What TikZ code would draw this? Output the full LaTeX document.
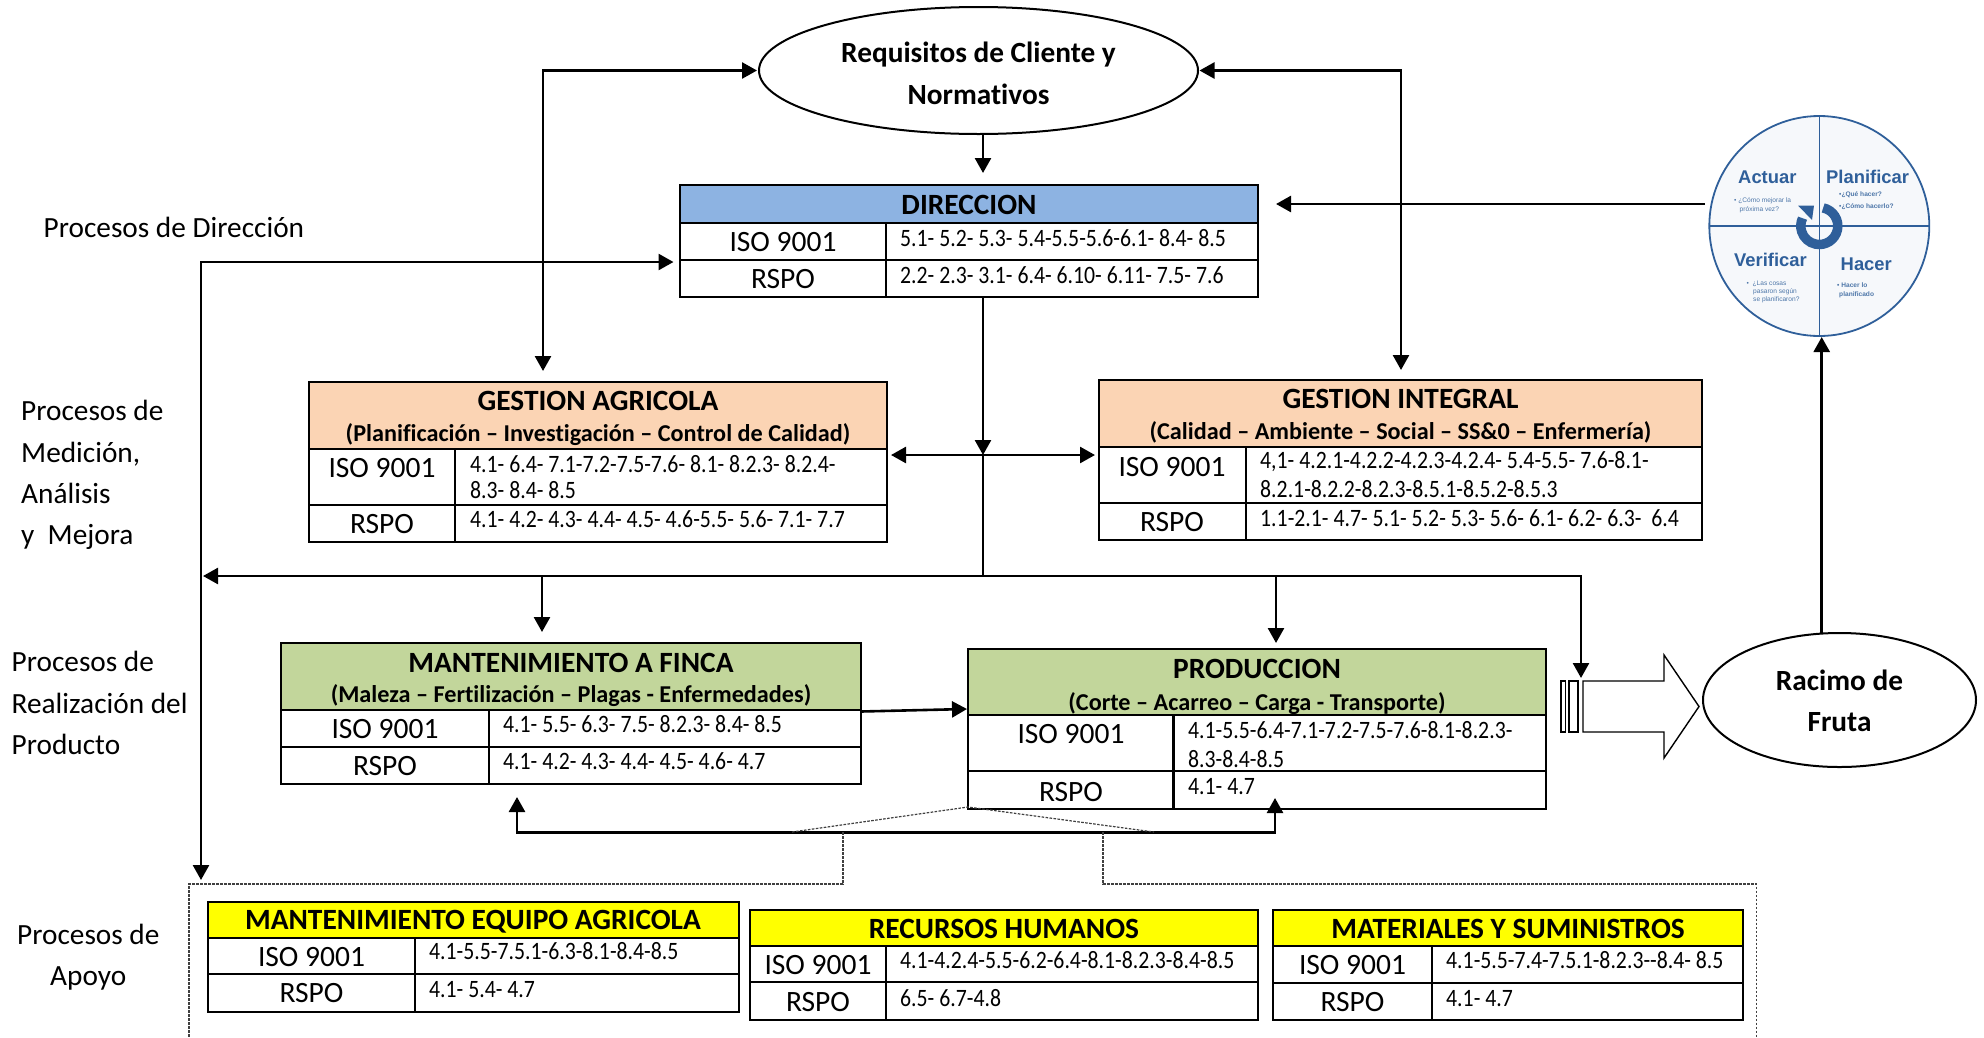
\documentclass[tikz,border=0pt]{standalone}
\usepackage{fontspec}
\setmainfont[Ligatures=NoCommon]{Carlito}
\newfontfamily\numfam[FakeStretch=0.87,Ligatures=NoCommon]{Carlito}
\newfontfamily\pdfam{Liberation Sans}
\usetikzlibrary{arrows.meta,shapes.geometric}
\definecolor{hblue}{HTML}{8DB3E2}
\definecolor{horange}{HTML}{FBD4B4}
\definecolor{hgreen}{HTML}{C2D69B}
\definecolor{hyellow}{HTML}{FFFF00}
\definecolor{pdblue}{HTML}{2F5F9A}
\definecolor{pdbg}{HTML}{F6F8FB}
\tikzset{
  gridline/.style={draw=black,line width=2.6pt},
  boxnode/.style={draw=black,line width=2.6pt,inner sep=0pt,outer sep=0pt},
  conn/.style={draw=black,line width=2.6pt},
  arr/.style={conn,-{Triangle[length=15pt,width=16pt]}},
  arrb/.style={conn,{Triangle[length=15pt,width=16pt]}-{Triangle[length=15pt,width=16pt]}},
  dotline/.style={draw=black!75,line width=1.2pt,dash pattern=on 2.6pt off 1.4pt},
  tb/.style={anchor=base,inner sep=0pt,yshift=-1.3pt,font=\fontsize{29.4}{34}\selectfont\bfseries},
  sb/.style={anchor=base,inner sep=0pt,yshift=-0.8pt,font=\fontsize{24.2}{29}\selectfont\bfseries},
  cl/.style={anchor=base,inner sep=0pt,yshift=-1.2pt,font=\fontsize{29.5}{34}\selectfont},
  nm/.style={anchor=base west,inner sep=0pt,yshift=-0.5pt,font=\numfam\fontsize{25}{30}\selectfont},
  sd/.style={anchor=base west,inner sep=0pt,yshift=-1.3pt,font=\fontsize{29.3}{34}\selectfont},
  oval/.style={ellipse,draw=black,line width=2pt,inner sep=0pt,outer sep=0pt,align=center,font=\fontsize{29.3}{41.5}\selectfont\bfseries},
  pdh/.style={anchor=base west,inner sep=0pt,text=pdblue,font=\pdfam\fontsize{18.4}{22}\selectfont\bfseries},
  pds/.style={anchor=base west,inner sep=0pt,text=pdblue!85,font=\pdfam\fontsize{6.6}{8}\selectfont},
  pdsb/.style={pds,font=\pdfam\fontsize{6.6}{8}\selectfont\bfseries},
  blockline/.style={draw=black,line width=1.4pt,fill=white,line join=miter},
}
% #1 id, #2 x1, #3 xcol, #4 x2, #5 top, #6 header bottom, #7 row, #8 bottom, #9 fill
\newcommand\tablebox[9]{%
  \pgfmathsetmacro\tw{#4-#2}\pgfmathsetmacro\th{#8-#5}%
  \pgfmathsetmacro\tcx{(#2+#4)/2}\pgfmathsetmacro\tcy{(#5+#8)/2}%
  \fill[#9] (#2,#5) rectangle (#4,#6);
  \node[boxnode,minimum width=\tw pt,minimum height=\th pt] (#1) at (\tcx,\tcy) {};
  \draw[gridline] (#2,#6) -- (#4,#6) (#2,#7) -- (#4,#7) (#3,#6) -- (#3,#8);
}
\begin{document}
\begin{tikzpicture}[x=1pt,y=-1pt]
\useasboundingbox (0,0) rectangle (1984,1037);
% ---------- side labels
\node[sd] (l1) at (43.5,235.7) {Procesos de Dirección};
\node[sd] (l2a) at (21,419) {Procesos de};
\node[sd] (l2b) at (21,460.7) {Medición,};
\node[sd] (l2c) at (21,501.7) {Análisis};
\node[sd] (l2d) at (21,542.7) {y\ \ Mejora};
\node[sd] (l3a) at (11.5,670) {Procesos de};
\node[sd] (l3b) at (11.5,711.7) {Realización del};
\node[sd] (l3c) at (11.5,752.7) {Producto};
\node[sd] (l4a) at (17,942.7) {Procesos de};
\node[sd] (l4b) at (50,984) {Apoyo};
% ---------- tables
\tablebox{dir}{680}{886}{1258}{185}{223}{260}{297}{hblue}
\node[tb] (dirT) at (969,213) {DIRECCION};
\node[cl] (dirI) at (783,250) {ISO 9001};
\node[cl] (dirR) at (783,287) {RSPO};
\node[nm] (dirN1) at (900,246) {5.1- 5.2- 5.3- 5.4-5.5-5.6-6.1- 8.4- 8.5};
\node[nm] (dirN2) at (900,283) {2.2- 2.3- 3.1- 6.4- 6.10- 6.11- 7.5- 7.6};

\tablebox{ga}{309}{455}{887}{382}{449}{505}{542}{horange}
\node[tb] (gaT) at (598,409) {GESTION AGRICOLA};
\node[sb] (gaS) at (598,440.7) {(Planificación – Investigación – Control de Calidad)};
\node[cl] (gaI) at (382,476.7) {ISO 9001};
\node[cl] (gaR) at (382,532) {RSPO};
\node[nm] (gaN1) at (470,471.7) {4.1- 6.4- 7.1-7.2-7.5-7.6- 8.1- 8.2.3- 8.2.4-};
\node[nm] (gaN2) at (470,498) {8.3- 8.4- 8.5};
\node[nm] (gaN3) at (470,526.7) {4.1- 4.2- 4.3- 4.4- 4.5- 4.6-5.5- 5.6- 7.1- 7.7};

\tablebox{gi}{1099}{1246}{1702}{380}{447}{503}{540}{horange}
\node[tb] (giT) at (1400.5,407) {GESTION INTEGRAL};
\node[sb] (giS) at (1400.5,439) {(Calidad – Ambiente – Social – SS\&0 – Enfermería)};
\node[cl] (giI) at (1172,475) {ISO 9001};
\node[cl] (giR) at (1172,530.7) {RSPO};
\node[nm] (giN1) at (1260,467.5) {4,1- 4.2.1-4.2.2-4.2.3-4.2.4- 5.4-5.5- 7.6-8.1-};
\node[nm] (giN2) at (1260,496.7) {8.2.1-8.2.2-8.2.3-8.5.1-8.5.2-8.5.3};
\node[nm] (giN3) at (1260,526) {1.1-2.1- 4.7- 5.1- 5.2- 5.3- 5.6- 6.1- 6.2- 6.3-\ \ 6.4};

\tablebox{fin}{281}{489}{861}{643}{710}{747}{784}{hgreen}
\node[tb] (finT) at (571,670.7) {MANTENIMIENTO A FINCA};
\node[sb] (finS) at (571,702) {(Maleza – Fertilización – Plagas - Enfermedades)};
\node[cl] (finI) at (385,737) {ISO 9001};
\node[cl] (finR) at (385,774) {RSPO};
\node[nm] (finN1) at (503,732) {4.1- 5.5- 6.3- 7.5- 8.2.3- 8.4- 8.5};
\node[nm] (finN2) at (503,769) {4.1- 4.2- 4.3- 4.4- 4.5- 4.6- 4.7};

\tablebox{pro}{968}{1173.5}{1546}{649}{715}{771}{809}{hgreen}
\node[tb] (proT) at (1257,676.7) {PRODUCCION};
\node[sb] (proS) at (1257,710) {(Corte – Acarreo – Carga - Transporte)};
\node[cl] (proI) at (1071,742.7) {ISO 9001};
\node[cl] (proR) at (1071,800) {RSPO};
\node[nm] (proN1) at (1188,737.5) {4.1-5.5-6.4-7.1-7.2-7.5-7.6-8.1-8.2.3-};
\node[nm] (proN2) at (1188,766.5) {8.3-8.4-8.5};
\node[nm] (proN3) at (1188,794) {4.1- 4.7};

\tablebox{meq}{208}{415}{739}{902}{938}{974}{1012}{hyellow}
\node[tb] (meqT) at (473,928.5) {MANTENIMIENTO EQUIPO AGRICOLA};
\node[cl] (meqI) at (311.5,965) {ISO 9001};
\node[cl] (meqR) at (311.5,1001.7) {RSPO};
\node[nm] (meqN1) at (429,959) {4.1-5.5-7.5.1-6.3-8.1-8.4-8.5};
\node[nm] (meqN2) at (429,996.7) {4.1- 5.4- 4.7};

\tablebox{rrh}{750}{886}{1258}{910}{946}{982}{1020}{hyellow}
\node[tb] (rrhT) at (1004,936.7) {RECURSOS HUMANOS};
\node[cl] (rrhI) at (818,973) {ISO 9001};
\node[cl] (rrhR) at (818,1010.7) {RSPO};
\node[nm] (rrhN1) at (900,968) {4.1-4.2.4-5.5-6.2-6.4-8.1-8.2.3-8.4-8.5};
\node[nm] (rrhN2) at (900,1005.7) {6.5- 6.7-4.8};

\tablebox{mat}{1273}{1432}{1743}{910}{946}{983}{1020}{hyellow}
\node[tb] (matT) at (1508,936.7) {MATERIALES Y SUMINISTROS};
\node[cl] (matI) at (1352.5,973) {ISO 9001};
\node[cl] (matR) at (1352.5,1010.7) {RSPO};
\node[nm] (matN1) at (1446,968) {4.1-5.5-7.4-7.5.1-8.2.3--8.4- 8.5};
\node[nm] (matN2) at (1446,1005.7) {4.1- 4.7};

% ---------- ovals
\node[oval,minimum width=439pt,minimum height=127pt] (req) at (978.5,70.5) {\rule{0pt}{26pt}Requisitos de Cliente y\\Normativos};
\node[oval,minimum width=273pt,minimum height=134pt] (rac) at (1839.5,700) {\rule{0pt}{22pt}Racimo de\\Fruta};

% ---------- PDCA wheel
\node[circle,draw=pdblue,fill=pdbg,line width=1.8pt,minimum size=220pt,inner sep=0pt,outer sep=0pt] (pdca) at (1819.3,226) {};
\draw[pdblue,line width=1.4pt] (pdca.north) -- (pdca.south) (pdca.west) -- (pdca.east);
\draw[pdblue,line width=9.5pt] (1819.3,226) ++(78:18.5pt) arc[start angle=78,end angle=-205,radius=18.5pt];
\fill[pdblue] (1798,205.5) -- (1814,205.5) -- (1812,220) -- cycle;
\node[pdh] (pdA) at (1738,183) {Actuar};
\node[pdh] (pdP) at (1826,183) {Planificar};
\node[pdh] (pdV) at (1734,266) {Verificar};
\node[pdh] (pdH) at (1840.5,270.7) {Hacer};
\node[pds] (pdA1) at (1734,202.7) {• ¿Cómo mejorar la};
\node[pds] (pdA2) at (1739.5,211) {próxima vez?};
\node[pdsb] (pdP1) at (1839,196.7) {•¿Qué hacer?};
\node[pdsb] (pdP2) at (1839,208) {•¿Cómo hacerlo?};
\node[pds] (pdV1) at (1746.5,285) {•\ \ ¿Las cosas};
\node[pds] (pdV2) at (1753,293) {pasaron según};
\node[pds] (pdV3) at (1753,301.7) {se planificaron?};
\node[pdsb] (pdH1) at (1837,287.7) {• Hacer lo};
\node[pdsb] (pdH2) at (1839,296.7) {planificado};

% ---------- block arrow
\draw[blockline] (1561,681) rectangle (1565.5,732);
\draw[blockline] (1569,681) rectangle (1578,732);
\coordinate (bt) at (1699,706.5);
\draw[blockline] (1583,681) -- (1664,681) -- (1664,655) -- (bt) -- (1664,758) -- (1664,732) -- (1583,732) -- cycle;

% ---------- junction coordinates
\coordinate (reqLj) at (543,70.5);
\coordinate (reqRj) at (1401,70.5);
\coordinate (gaTip) at (543,371);
\coordinate (giTip) at (1401,370);
\coordinate (reqIn) at (757,70.5);
\coordinate (reqOut) at (1199.5,70.5);
\coordinate (dirTop) at (983,173);
\coordinate (reqBot) at (983,134);
\coordinate (dirBot) at (983,297);
\coordinate (cross) at (983,455);
\coordinate (crossL) at (891,455);
\coordinate (crossR) at (1095,455);
\coordinate (busM) at (983,576);
\coordinate (busL) at (203,576);
\coordinate (busR) at (1581,576);
\coordinate (busTip) at (1581,678);
\coordinate (busF) at (542,576);
\coordinate (finTip) at (542,632);
\coordinate (busP) at (1276,576);
\coordinate (proTip) at (1276,643);
\coordinate (spineTop) at (201,262);
\coordinate (spineBot) at (201,880);
\coordinate (dirIn) at (673.5,262);
\coordinate (finOut) at (861,711.5);
\coordinate (proIn) at (967,709);
\coordinate (fbR) at (1275,832.5);
\coordinate (fbRTip) at (1275,798);
\coordinate (fbL) at (517,832.5);
\coordinate (fbLTip) at (517,797);
\coordinate (racTop) at (1821.7,633);
\coordinate (pdTip) at (1821.7,337);
\coordinate (pdOut) at (1705,204);
\coordinate (dirRTip) at (1276,204);
% ---------- connectors
\draw[arrb] (gaTip) -- (reqLj) -- (reqIn);
\draw[arrb] (giTip) -- (reqRj) -- (reqOut);
\draw[arr] (reqBot) -- (dirTop);
\draw[arrb] (dirIn) -- (spineTop) -- (spineBot);
\draw[arr] (dirBot) -- (cross);
\draw[arrb] (crossL) -- (crossR);
\draw[conn] (cross) -- (busM);
\draw[arr] (busM) -- (busL);
\draw[arr] (busM) -- (busR) -- (busTip);
\draw[arr] (busF) -- (finTip);
\draw[arr] (busP) -- (proTip);
\draw[arr] (finOut) -- (proIn);
\draw[arrb] (fbLTip) -- (fbL) -- (fbR) -- (fbRTip);
\draw[arr] (racTop) -- (pdTip);
\draw[arr] (pdOut) -- (dirRTip);
% ---------- dotted callout
\coordinate (c1) at (792,832);
\coordinate (c2) at (968,807);
\coordinate (c3) at (1154,832);
\coordinate (d1) at (843,832);
\coordinate (d2) at (843,884);
\coordinate (d3) at (189,884);
\coordinate (d4) at (189,1037);
\coordinate (e1) at (1103,832);
\coordinate (e2) at (1103,884);
\coordinate (e3) at (1756.5,884);
\coordinate (e4) at (1756.5,1037);
\draw[dotline] (c1) -- (c2) -- (c3);
\draw[dotline] (d1) -- (d2) -- (d3) -- (d4);
\draw[dotline] (e1) -- (e2) -- (e3) -- (e4);
\end{tikzpicture}
\end{document}
